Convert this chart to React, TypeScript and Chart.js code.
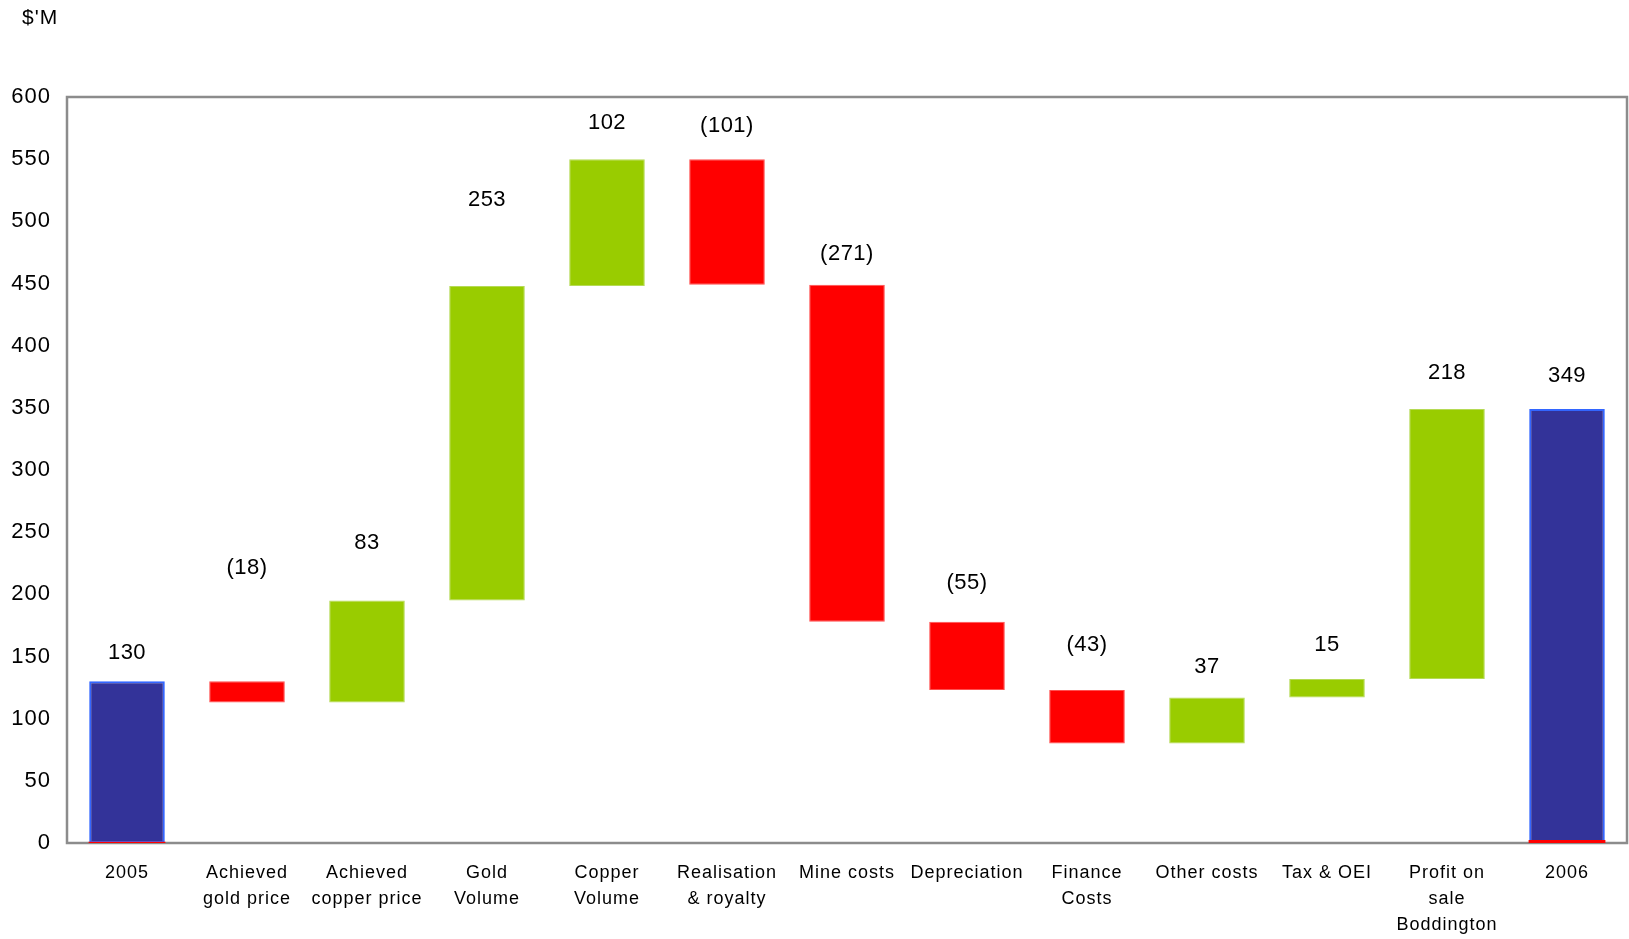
import React, { useEffect, useRef } from "react";
import { Chart, registerables } from "chart.js";

Chart.register(...registerables);

const categories: string[][] = [
  ["2005"],
  ["Achieved", "gold price"],
  ["Achieved", "copper price"],
  ["Gold", "Volume"],
  ["Copper", "Volume"],
  ["Realisation", "& royalty"],
  ["Mine costs"],
  ["Depreciation"],
  ["Finance", "Costs"],
  ["Other costs"],
  ["Tax & OEI"],
  ["Profit on", "sale", "Boddington"],
  ["2006"],
];

const changeLabels = ["130", "(18)", "83", "253", "102", "(101)", "(271)", "(55)", "(43)", "37", "15", "218", "349"];
const barKind = ["total", "down", "up", "up", "up", "down", "down", "down", "down", "up", "up", "up", "total"];
const barRanges: [number, number][] = [
  [0, 130], [130, 113], [113, 195], [195, 448], [448, 550], [550, 449], [449, 178],
  [178, 123], [123, 80], [80, 117], [117, 132], [132, 349], [0, 349],
];
const labelAnchor = [153, 221, 241, 517, 579, 577, 474, 209, 159, 142, 159, 378, 376];
const zeroMarker: ([number, number] | null)[] = [[0, 1], null, null, null, null, null, null, null, null, null, null, null, [0, 2.5]];
const yTicks = { min: 0, max: 600, step: 50 };

const FONT = "'Liberation Sans', Arial, sans-serif";
const COLORS: Record<string, string> = { total: "#333399", up: "#99CC00", down: "#FF0000" };
const BORDERS: Record<string, string> = { total: "#3366FF", up: "#B5DA55", down: "#FF5050" };

export default function App() {
  const ref = useRef<HTMLCanvasElement | null>(null);

  useEffect(() => {
    if (!ref.current) return;

    const boxPlugin = {
      id: "box",
      beforeDraw(chart: any) {
        (chart.ctx as any).letterSpacing = "1px";
      },
      beforeDatasetsDraw(chart: any) {
        const { ctx, chartArea: a } = chart;
        (ctx as any).letterSpacing = "0px";
        ctx.save();
        ctx.strokeStyle = "#8C8C8C";
        ctx.lineWidth = 2.5;
        ctx.strokeRect(a.left, a.top, a.right - a.left, a.bottom - a.top);
        ctx.restore();
      },
      afterDraw(chart: any) {
        const { ctx } = chart;
        ctx.save();
        ctx.fillStyle = "#000";
        (ctx as any).letterSpacing = "1px";
        ctx.font = `21px ${FONT}`;
        ctx.textAlign = "left";
        ctx.textBaseline = "middle";
        ctx.fillText("$'M", 22, 18);
        const meta = chart.getDatasetMeta(0);
        const y = chart.scales.y;
        (ctx as any).letterSpacing = "0.5px";
        ctx.font = `22px ${FONT}`;
        ctx.textAlign = "center";
        meta.data.forEach((bar: any, i: number) => {
          ctx.fillText(changeLabels[i], bar.x, y.getPixelForValue(labelAnchor[i]));
        });
        ctx.restore();
        (ctx as any).letterSpacing = "0px";
      },
    };

    const chart = new Chart(ref.current, {
      type: "bar",
      data: {
        labels: categories,
        datasets: [
          {
            data: barRanges as any,
            backgroundColor: barKind.map((k) => COLORS[k]),
            borderColor: barKind.map((k) => BORDERS[k]),
            borderWidth: barKind.map((k) => (k === "total" ? 2 : 1)),
            borderSkipped: false,
            categoryPercentage: 1,
            barPercentage: 0.63,
            grouped: false,
            order: 2,
          },
          {
            data: zeroMarker as any,
            backgroundColor: "#FF0000",
            borderWidth: 0,
            categoryPercentage: 1,
            barPercentage: 0.64,
            grouped: false,
            order: 1,
          },
        ],
      },
      options: {
        animation: false,
        responsive: false,
        maintainAspectRatio: false,
        layout: { padding: { top: 97, right: 2, left: 0, bottom: 0 } },
        plugins: { legend: { display: false }, tooltip: { enabled: false } },
        scales: {
          x: {
            grid: { display: false, drawTicks: false },
            border: { display: false },
            ticks: {
              color: "#000",
              font: { family: FONT, size: 18, lineHeight: 1.45 },
              padding: 17,
              maxRotation: 0,
              autoSkip: false,
            },
            afterFit(axis: any) {
              axis.height = 96;
            },
          },
          y: {
            min: yTicks.min,
            max: yTicks.max,
            grid: { display: false, drawTicks: false },
            border: { display: false },
            ticks: {
              stepSize: yTicks.step,
              color: "#000",
              font: { family: FONT, size: 22 },
              padding: 16,
            },
            afterFit(axis: any) {
              axis.width = 67;
            },
          },
        },
      },
      plugins: [boxPlugin],
    });
    return () => chart.destroy();
  }, []);

  return (
    <div style={{ position: "absolute", left: 0, top: 0, width: 1629, height: 939, background: "#fff" }}>
      <canvas ref={ref} width={1629} height={939} style={{ display: "block", width: 1629, height: 939 }} />
    </div>
  );
}
